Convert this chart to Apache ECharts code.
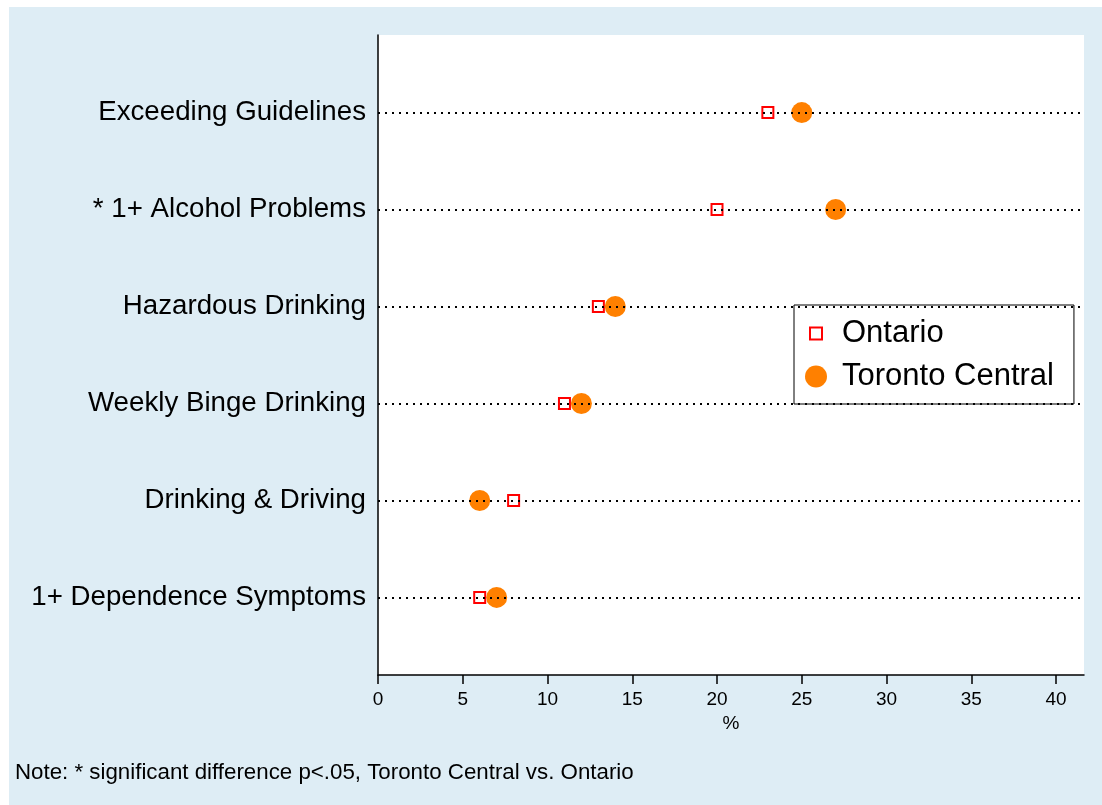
<!DOCTYPE html>
<html>
<head>
<meta charset="utf-8">
<script src="https://cdn.jsdelivr.net/npm/echarts@6/dist/echarts.min.js"></script>
<style>
  html, body { margin: 0; padding: 0; background: #fff; }
  #chart { position: absolute; left: 9px; top: 7px; width: 1093px; height: 798px; }
</style>
</head>
<body>
<div id="chart"></div>
<script>
var categories = ['Exceeding Guidelines', '* 1+ Alcohol Problems', 'Hazardous Drinking',
                  'Weekly Binge Drinking', 'Drinking & Driving', '1+ Dependence Symptoms'];
var ontario = [23, 20, 13, 11, 8, 6];
var toronto = [25, 27, 14, 12, 6, 7];
var xTicks = [0, 5, 10, 15, 20, 25, 30, 35, 40];
var noteText = 'Note: * significant difference p<.05, Toronto Central vs. Ontario';

var font = "'Liberation Sans', Arial, sans-serif";

function pairs(vals) {
    return vals.map(function (v, i) { return [v, i]; });
}

var rowIdx = categories.map(function (c, i) { return i; });

var myChart = echarts.init(document.getElementById('chart'));

var option = {
    backgroundColor: '#deedf5',
    animation: false,
    textStyle: { fontFamily: font },
    title: {
        text: noteText,
        left: 1,
        top: 750,
        textStyle: { fontFamily: font, fontSize: 22.3, fontWeight: 'normal', color: '#000' }
    },
    grid: {
        left: 369, right: 18, top: 28, bottom: 130,
        show: true, backgroundColor: '#fff', borderWidth: 0
    },
    legend: {
        orient: 'vertical',
        left: 785, top: 298,
        padding: [13, 20, 12, 10],
        itemWidth: 22, itemHeight: 22, itemGap: 12,
        backgroundColor: '#fff',
        borderColor: '#000', borderWidth: 1,
        textStyle: { fontFamily: font, fontSize: 31, lineHeight: 30, color: '#000', padding: [0, 0, 0, 10] },
        data: [
            { name: 'Ontario', icon: 'path://M0,0M5,5H17V17H5ZM22,22',
              itemStyle: { color: 'rgba(0,0,0,0)', borderColor: '#ff0000', borderWidth: 2 } },
            { name: 'Toronto Central', icon: 'circle',
              itemStyle: { color: '#ff8000', borderWidth: 0 } }
        ]
    },
    xAxis: {
        type: 'value',
        min: 0, max: 41.65,
        name: '%', nameLocation: 'middle', nameGap: 37,
        nameTextStyle: { fontFamily: font, fontSize: 19, color: '#000' },
        axisLine: { show: true, onZero: false, lineStyle: { color: '#000', width: 1.5 } },
        axisTick: { show: true, length: 9, customValues: xTicks, lineStyle: { color: '#000', width: 1.5 } },
        axisLabel: { customValues: xTicks, margin: 15, fontFamily: font, fontSize: 19, color: '#000' },
        splitLine: { show: false }
    },
    yAxis: {
        type: 'value',
        inverse: true,
        min: -0.8, max: 5.8,
        axisLine: { show: true, onZero: false, lineStyle: { color: '#000', width: 1.5 } },
        axisTick: { show: false },
        axisLabel: {
            customValues: rowIdx,
            margin: 12,
            fontFamily: font, fontSize: 27.7, color: '#000',
            formatter: function (v) { return categories[Math.round(v)]; }
        },
        splitLine: { show: false }
    },
    series: [
        {
            name: 'Ontario',
            type: 'scatter',
            symbol: 'rect',
            symbolSize: 11,
            itemStyle: { color: 'rgba(0,0,0,0)', borderColor: '#ff0000', borderWidth: 2, opacity: 1 },
            data: pairs(ontario),
            markLine: {
                silent: true,
                symbol: 'none',
                label: { show: false },
                lineStyle: { color: '#000', type: [2, 5], width: 2, cap: 'butt' },
                data: rowIdx.map(function (i) { return { yAxis: i }; })
            },
            z: 2
        },
        {
            name: 'Toronto Central',
            type: 'scatter',
            symbol: 'circle',
            symbolSize: 21,
            itemStyle: { color: '#ff8000', opacity: 1 },
            data: pairs(toronto),
            z: 3
        }
    ]
};

myChart.setOption(option);
window.onresize = myChart.resize;
</script>
</body>
</html>
